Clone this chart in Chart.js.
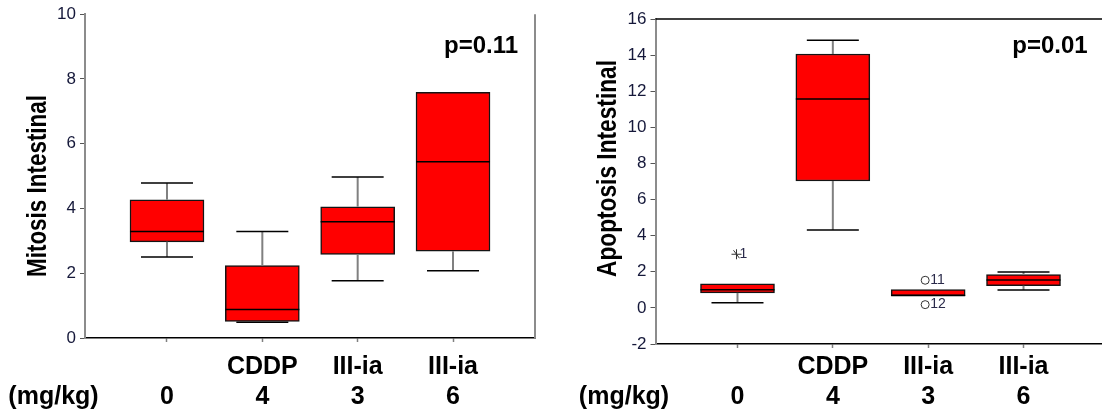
<!DOCTYPE html>
<html>
<head>
<meta charset="utf-8">
<script src="https://cdn.jsdelivr.net/npm/chart.js@4.4.1/dist/chart.umd.min.js"></script>
<style>
  html, body { margin: 0; padding: 0; background: #fff; overflow: hidden; }
  body { width: 1102px; height: 414px; position: relative; }
  .panel { position: absolute; top: 0; height: 414px; }
  #left { left: 0; width: 550px; }
  #right { left: 550px; width: 570px; }
</style>
</head>
<body>
<div class="panel" id="left"><canvas id="mitosisChart" width="550" height="414"></canvas></div>
<div class="panel" id="right"><canvas id="apoptosisChart" width="570" height="414"></canvas></div>
<script>
const groups = ['', 'CDDP', 'III-ia', 'III-ia'];
const doses = ['0', '4', '3', '6'];

// mitosis per group: whisker ends, quartiles, median
const mitosisMin = [2.50, 0.49, 1.77, 2.08];
const mitosisQ1 = [2.97, 0.51, 2.58, 2.68];
const mitosisMedian = [3.29, 0.88, 3.59, 5.44];
const mitosisQ3 = [4.27, 2.24, 4.05, 7.59];
const mitosisMax = [4.79, 3.29, 4.97, 7.59];

// apoptosis per group
const apoptosisMin = [0.28, 4.32, 0.68, 0.99];
const apoptosisQ1 = [0.83, 7.03, 0.68, 1.23];
const apoptosisMedian = [1.00, 11.57, 0.68, 1.54];
const apoptosisQ3 = [1.33, 14.06, 1.01, 1.84];
const apoptosisMax = [1.33, 14.83, 1.01, 1.99];

// flagged cases (group index, value, case number, extreme or not)
const apoptosisOutlierGroup = [0, 2, 2];
const apoptosisOutlierValue = [2.97, 1.53, 0.18];
const apoptosisOutlierCase = ['1', '11', '12'];
const apoptosisOutlierExtreme = [true, false, false];

const FONT = "Arial, 'Liberation Sans', sans-serif";
const BOX_W = 74;
const CAP_W = 52;

Chart.defaults.font.family = FONT;

function boxPanel(canvasId, p) {
  const boxes = p.q1.map((lo, i) => ({ x: i + 1, y: [lo, p.q3[i]] }));

  const whiskers = {
    id: 'whiskers',
    afterDatasetsDraw(chart) {
      const { ctx, scales: { x, y } } = chart;
      ctx.save();
      p.median.forEach((m, i) => {
        const cx = x.getPixelForValue(i + 1);
        const top = y.getPixelForValue(p.q3[i]);
        const bot = y.getPixelForValue(p.q1[i]);
        const hi = y.getPixelForValue(p.max[i]);
        const lo = y.getPixelForValue(p.min[i]);
        const hasHi = p.max[i] > p.q3[i];
        const hasLo = p.min[i] < p.q1[i];

        ctx.lineWidth = 2;
        ctx.strokeStyle = '#808080';
        ctx.beginPath();
        if (hasHi) { ctx.moveTo(cx, top); ctx.lineTo(cx, hi); }
        if (hasLo) { ctx.moveTo(cx, bot); ctx.lineTo(cx, lo); }
        ctx.stroke();

        ctx.lineWidth = 1.5;
        ctx.strokeStyle = '#000';
        ctx.beginPath();
        if (hasHi) { ctx.moveTo(cx - CAP_W / 2, hi); ctx.lineTo(cx + CAP_W / 2, hi); }
        if (hasLo) { ctx.moveTo(cx - CAP_W / 2, lo); ctx.lineTo(cx + CAP_W / 2, lo); }
        const med = y.getPixelForValue(m);
        ctx.moveTo(cx - BOX_W / 2, med);
        ctx.lineTo(cx + BOX_W / 2, med);
        ctx.stroke();
      });

      // flagged cases
      const o = p.outliers;
      if (o) {
        ctx.font = '14px ' + FONT;
        ctx.textBaseline = 'middle';
        ctx.textAlign = 'left';
        o.group.forEach((g, k) => {
          const cx = x.getPixelForValue(g + 1) - 1;
          const cy = y.getPixelForValue(o.value[k]);
          ctx.strokeStyle = '#333';
          ctx.lineWidth = 1;
          ctx.beginPath();
          if (o.extreme[k]) {
            ctx.moveTo(cx - 5, cy); ctx.lineTo(cx + 5, cy);
            ctx.moveTo(cx, cy - 5); ctx.lineTo(cx, cy + 5);
            ctx.moveTo(cx - 3, cy - 4); ctx.lineTo(cx + 3, cy + 4);
          } else {
            ctx.arc(cx - 2, cy, 4, 0, Math.PI * 2);
          }
          ctx.stroke();
          ctx.fillStyle = '#2a2a4a';
          ctx.fillText(o.label[k], cx + 3, cy);
        });
      }
      ctx.restore();
    }
  };

  const frameAndText = {
    id: 'frameAndText',
    afterDraw(chart) {
      const { ctx, chartArea: a } = chart;
      ctx.save();
      ctx.beginPath();
      if (p.frame === 'right') {
        ctx.strokeStyle = '#8c8c8c';
        ctx.lineWidth = 2;
        ctx.moveTo(a.right, a.top);
        ctx.lineTo(a.right, a.bottom);
      } else {
        ctx.strokeStyle = '#000';
        ctx.lineWidth = 1.5;
        ctx.moveTo(a.left, a.top);
        ctx.lineTo(a.right + 20, a.top);
      }
      ctx.stroke();

      ctx.fillStyle = '#000';
      ctx.font = 'bold 24px ' + FONT;
      ctx.textAlign = 'center';
      ctx.textBaseline = 'alphabetic';
      ctx.fillText(p.pValue, a.right - p.pOffset, 53);

      ctx.font = 'bold 25px ' + FONT;
      ctx.textBaseline = 'middle';
      ctx.fillText('(mg/kg)', a.left - 31.5, 397);

      ctx.translate(p.titleX, p.titleY);
      ctx.rotate(-Math.PI / 2);
      ctx.font = 'bold 28px ' + FONT;
      ctx.textBaseline = 'alphabetic';
      ctx.fillText(p.title, 0, 0, p.titleLen);
      ctx.restore();
    }
  };

  return new Chart(document.getElementById(canvasId), {
    type: 'bar',
    data: {
      datasets: [{
        data: boxes,
        backgroundColor: '#ff0000',
        borderColor: '#141414',
        borderWidth: 1.5,
        borderSkipped: false,
        barThickness: BOX_W
      }]
    },
    options: {
      responsive: false,
      animation: false,
      layout: { padding: { top: p.padTop, right: p.padRight, left: 0, bottom: 0 } },
      plugins: { legend: { display: false }, tooltip: { enabled: false } },
      scales: {
        x: {
          type: 'linear',
          min: 0.14,
          max: 4.86,
          offset: false,
          afterBuildTicks: s => { s.ticks = groups.map((g, i) => ({ value: i + 1 })); },
          afterFit: s => { s.height = p.axisHeight; },
          grid: { offset: false, drawOnChartArea: false, tickLength: 4, tickColor: '#808080', tickWidth: 1.5 },
          border: { color: '#000', width: 1.5 },
          ticks: {
            autoSkip: false,
            maxRotation: 0,
            padding: p.labelPad,
            color: '#000',
            font: { size: 25, weight: 'bold', lineHeight: '30px' },
            callback: v => [groups[v - 1], doses[v - 1]]
          }
        },
        y: {
          min: p.yMin,
          max: p.yMax,
          afterFit: s => { s.width = p.axisWidth; },
          grid: { drawOnChartArea: false, tickLength: 5, tickColor: '#555', tickWidth: 1 },
          border: { color: '#8c8c8c', width: 2 },
          ticks: { stepSize: 2, padding: p.tickPad, color: '#15183a', font: { size: 17 } }
        }
      }
    },
    plugins: [whiskers, frameAndText]
  });
}

boxPanel('mitosisChart', {
  min: mitosisMin, q1: mitosisQ1, median: mitosisMedian, q3: mitosisQ3, max: mitosisMax,
  yMin: 0, yMax: 10,
  padTop: 13, padRight: 15, axisWidth: 85, axisHeight: 76, labelPad: 10, tickPad: 4,
  frame: 'right', pValue: 'p=0.11', pOffset: 54,
  title: 'Mitosis Intestinal', titleX: 45.5, titleY: 186, titleLen: 182
});

boxPanel('apoptosisChart', {
  min: apoptosisMin, q1: apoptosisQ1, median: apoptosisMedian, q3: apoptosisQ3, max: apoptosisMax,
  outliers: {
    group: apoptosisOutlierGroup, value: apoptosisOutlierValue,
    label: apoptosisOutlierCase, extreme: apoptosisOutlierExtreme
  },
  yMin: -2, yMax: 16,
  padTop: 19, padRight: 14.5, axisWidth: 105.5, axisHeight: 70, labelPad: 4, tickPad: 4,
  frame: 'top', pValue: 'p=0.01', pOffset: 55.5,
  title: 'Apoptosis Intestinal', titleX: 66.3, titleY: 168.5, titleLen: 217
});
</script>
</body>
</html>
